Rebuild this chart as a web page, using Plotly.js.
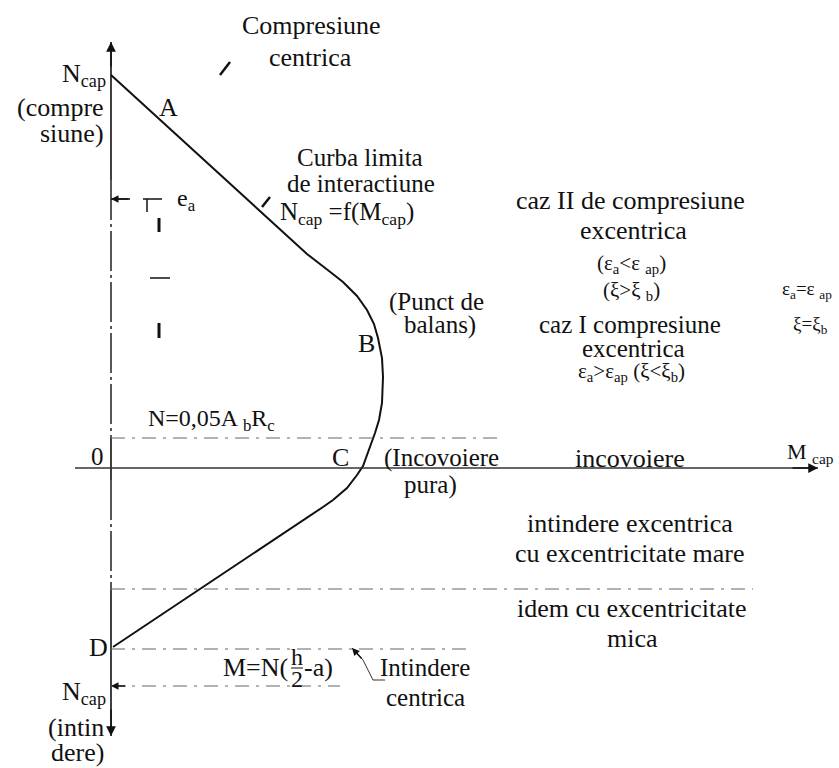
<!DOCTYPE html>
<html>
<head>
<meta charset="utf-8">
<script src="https://cdn.plot.ly/plotly-3.0.1.min.js"></script>
<style>html,body{margin:0;padding:0;background:#fff;}#chart{width:839px;height:768px;}</style>
</head>
<body>
<div id="chart"></div>
<script>
// Interaction curve N_cap = f(M_cap), in diagram units (origin at O)
const curveM = [0, 196, 218, 232, 246, 256, 263, 267, 271, 272, 271, 268, 264, 258, 252, 246, 236, 222, 212, 2];
const curveN = [393, 214, 197, 186, 172, 158, 144, 130, 110, 91, 65, 48, 35, 18, 2, -7, -20, -32, -39, -179];

// Axes
const axisVSolidM = [0, 0, null, 0, 0, null, 0, 0];
const axisVSolidN = [426, 288, null, 30, -12, null, -122, -268];
const axisVDashM = [0, 0, null, 0, 0];
const axisVDashN = [288, 30, null, -12, -122];
const axisHM = [-36, 707];
const axisHN = [0, 0];

// Dash-dot horizontal limit lines: level N and end abscissa
const limitN = [30, -121, -181];
const limitEndM = [389, 642, 359];
// Dimension line M = N(h/2 - a)
const dimM = [0, 229];
const dimN = [-218, -218];

// e_a dimension marks
const eaThinM = [0, 19, null, 32, 51, null, 36, 36, null, 39, 59];
const eaThinN = [269, 269, null, 269, 269, null, 269, 256, null, 190, 190];
const eaThickM = [48, 48, null, 48, 48];
const eaThickN = [250, 236, null, 145, 130];

// Leader marks
const leadCompM = [109, 119];
const leadCompN = [393, 406];
const leadCurbaM = [151, 159];
const leadCurbaN = [261, 271];
const leadIntM = [241, 252, 262, 274];
const leadIntN = [-180, -192, -212, -212];
const fracBarM = [180, 192];
const fracBarN = [-200, -200];

// Labels: text, M, N, anchor, size
const labelText = [
  "Compresiune", "centrica",
  "N<sub>cap</sub>", "(compre", "siune)", "A",
  "Curba limita", "de interactiune", "N<sub>cap</sub> =f(M<sub>cap</sub>)",
  "e<sub>a</sub>",
  "caz II de compresiune", "excentrica",
  "(ε<sub>a</sub><ε <sub>ap</sub>)", "(ξ>ξ <sub>b</sub>)",
  "ε<sub>a</sub>=ε <sub>ap</sub>",
  "(Punct de", "balans)", "B",
  "caz I compresiune", "excentrica", "ξ=ξ<sub>b</sub>",
  "ε<sub>a</sub>>ε<sub>ap</sub> (ξ<ξ<sub>b</sub>)",
  "N=0,05A <sub>b</sub>R<sub>c</sub>",
  "0", "C", "(Incovoiere", "pura)", "incovoiere", "M <sub>cap</sub>",
  "intindere excentrica", "cu excentricitate mare",
  "idem cu excentricitate", "mica",
  "D", "M=N(", "h", "2", "-a)",
  "Intindere", "centrica",
  "N<sub>cap</sub>", "(intin", "dere)"
];
const labelM = [
  200, 199,
  -3, -5, -5, 57,
  249, 250, 236,
  75,
  519, 522,
  520, 520,
  696,
  276, 329, 255,
  519, 522, 699,
  520,
  100,
  -14, 229, 271, 319, 519, 699,
  519, 519,
  521, 521,
  -13, 179, 186, 186, 191,
  314, 314,
  -3, -35, -34
];
const labelN = [
  443, 411,
  393, 361, 335, 361,
  311, 285, 255,
  268,
  268, 238,
  204, 177,
  178,
  166, 143, 125,
  144, 120, 143,
  96,
  48,
  12, 11, 10, -17, 10, 15,
  -55, -85,
  -140, -170,
  -179, -199, -189, -211, -199,
  -199, -229,
  -225, -259, -284
];
const labelAnchor = [
  "center", "center",
  "right", "right", "right", "center",
  "center", "center", "center",
  "center",
  "center", "center",
  "center", "center",
  "center",
  "left", "center", "center",
  "center", "center", "center",
  "center",
  "center",
  "center", "center", "left", "center", "center", "center",
  "center", "center",
  "center", "center",
  "center", "right", "center", "center", "left",
  "center", "center",
  "right", "center", "center"
];
const labelSize = [
  26, 26,
  26, 26, 26, 26,
  25, 25, 25,
  24,
  26, 26,
  21, 21,
  19,
  25, 25, 26,
  25, 25, 19,
  21,
  24,
  25, 26, 25, 25, 26, 22,
  26, 26,
  26, 26,
  26, 26, 24, 24, 26,
  25, 25,
  26, 26, 26
];

const black = "#111";
const dashCol = "#666";
const FONT = "Liberation Serif, Times New Roman, serif";

const traces = [];
function addLine(m, n, width, color, dash) {
  traces.push({type: "scatter", mode: "lines", x: m, y: n, hoverinfo: "skip",
    showlegend: false, line: {color: color, width: width, dash: dash || "solid"}});
}
addLine(curveM, curveN, 2, black, "solid");
addLine(axisVSolidM, axisVSolidN, 1.6, black, "solid");
addLine(axisVDashM, axisVDashN, 1.4, black, "40px,4px,3px,4px");
addLine(axisHM, axisHN, 1.5, "#333", "solid");
limitN.forEach((n, i) => addLine([0, limitEndM[i]], [n, n], 1, dashCol, "14px,7px,3px,7px"));
addLine(dimM, dimN, 1, dashCol, "14px,7px,3px,7px");
addLine(eaThinM, eaThinN, 1.5, black, "solid");
addLine(eaThickM, eaThickN, 3, black, "solid");
addLine(leadCompM, leadCompN, 2.5, black, "solid");
addLine(leadCurbaM, leadCurbaN, 2.5, black, "solid");
addLine(leadIntM, leadIntN, 1, "#333", "solid");
addLine(fracBarM, fracBarN, 1, black, "solid");

const annotations = labelText.map((t, i) => ({
  x: labelM[i], y: labelN[i], xref: "x", yref: "y", text: t, showarrow: false,
  xanchor: labelAnchor[i], yanchor: "middle",
  font: {family: FONT, size: labelSize[i], color: black}
}));
function arrow(hx, hy, tx, ty, size) {
  annotations.push({x: hx, y: hy, ax: tx, ay: ty, xref: "x", yref: "y", axref: "x", ayref: "y",
    text: "", showarrow: true, arrowhead: 2, arrowsize: size || 1.2, arrowwidth: 1.5,
    arrowcolor: black, standoff: 0, startstandoff: 0});
}
arrow(axisVSolidM[0], axisVSolidN[0], 0, 400, 1.3);
arrow(axisVSolidM[7], axisVSolidN[7], 0, -240, 1.3);
arrow(axisHM[1], axisHN[1], 680, 0, 1.3);
arrow(eaThinM[0], eaThinN[0], eaThinM[1], eaThinN[1], 1);
arrow(dimM[0], dimN[0], 16, -218, 1);
arrow(leadIntM[0], leadIntN[0], leadIntM[1], leadIntN[1], 1);

const layout = {
  width: 839, height: 768, autosize: false,
  margin: {l: 0, r: 0, t: 0, b: 0, pad: 0},
  paper_bgcolor: "#fff", plot_bgcolor: "#fff",
  showlegend: false,
  xaxis: {range: [-111, 728], visible: false, fixedrange: true},
  yaxis: {range: [-300, 468], visible: false, fixedrange: true},
  annotations: annotations
};
Plotly.newPlot("chart", traces, layout, {displayModeBar: false, staticPlot: true});
</script>
</body>
</html>
